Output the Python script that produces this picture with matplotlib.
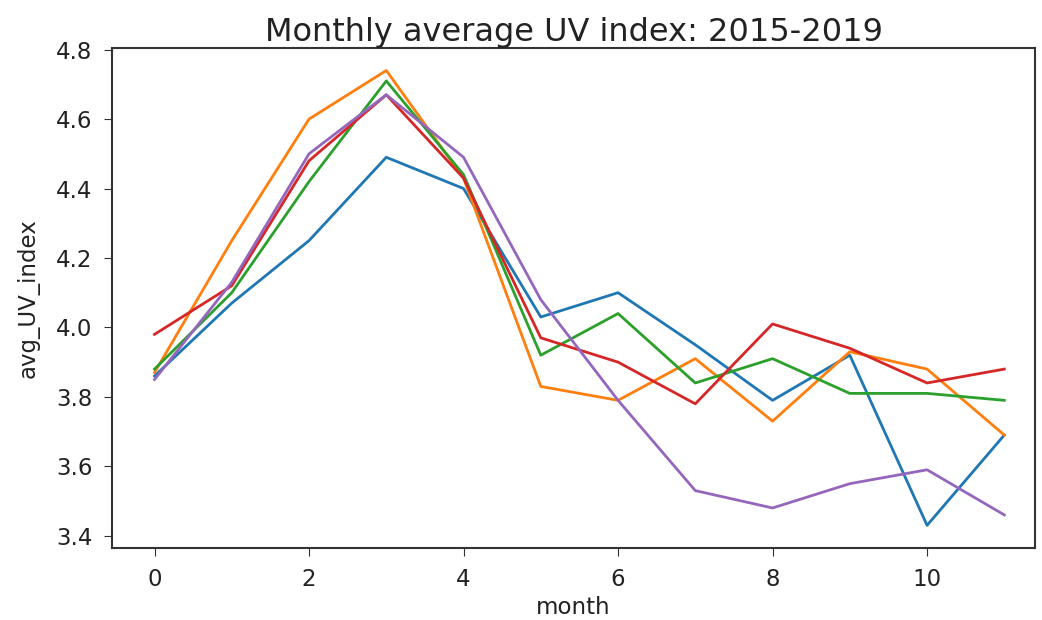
import numpy as np
import matplotlib
matplotlib.use('Agg')
import matplotlib.pyplot as plt

# Monthly average UV index, one series per year
months = np.arange(12)
uv_2015 = [3.86, 4.07, 4.25, 4.49, 4.40, 4.03, 4.10, 3.95, 3.79, 3.92, 3.43, 3.69]
uv_2016 = [3.87, 4.25, 4.60, 4.74, 4.43, 3.83, 3.79, 3.91, 3.73, 3.93, 3.88, 3.69]
uv_2017 = [3.88, 4.10, 4.42, 4.71, 4.44, 3.92, 4.04, 3.84, 3.91, 3.81, 3.81, 3.79]
uv_2018 = [3.98, 4.12, 4.48, 4.67, 4.43, 3.97, 3.90, 3.78, 4.01, 3.94, 3.84, 3.88]
uv_2019 = [3.85, 4.13, 4.50, 4.67, 4.49, 4.08, 3.79, 3.53, 3.48, 3.55, 3.59, 3.46]

years = [uv_2015, uv_2016, uv_2017, uv_2018, uv_2019]

fig = plt.figure(figsize=(10.42, 6.2), dpi=100)
ax = fig.add_axes([0.1075, 0.116, 0.886, 0.807])

# Plot each year's curve
for vals in years:
    ax.plot(months, vals, linewidth=2)

ax.set_xlim(-0.55, 11.4)
ax.set_xticks([0, 2, 4, 6, 8, 10])
ax.set_yticks([3.4, 3.6, 3.8, 4.0, 4.2, 4.4, 4.6, 4.8])
ax.tick_params(labelsize=16.5, length=6, pad=8, colors='#333333', labelcolor='#222222')

# Include a title and axis labels
ax.set_title('Monthly average UV index: 2015-2019', fontsize=23, color='#222222', pad=5)
ax.set_xlabel('month', fontsize=16.5, color='#222222', labelpad=4)
ax.set_ylabel('avg_UV_index', fontsize=16.5, color='#222222', labelpad=12)

for s in ax.spines.values():
    s.set_linewidth(1.5)
    s.set_color('#333333')

fig.savefig('out.png', dpi=100)
